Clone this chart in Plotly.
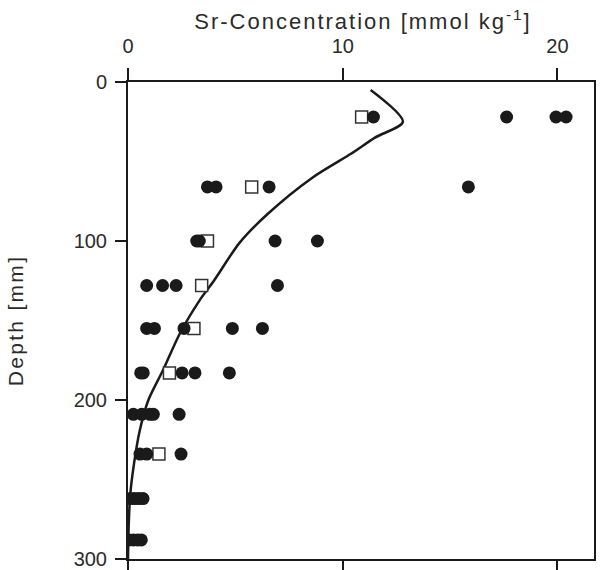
import plotly.graph_objects as go

# Measured data: filled circles (individual samples)
circle_depth = [22, 22, 22, 22,
                66, 66, 66, 66,
                100, 100, 100, 100,
                128, 128, 128, 128,
                155, 155, 155, 155, 155,
                183, 183, 183, 183, 183,
                209, 209, 209, 209, 209,
                234, 234, 234,
                262, 262, 262, 262,
                288, 288, 288, 288]
circle_sr = [11.43, 17.63, 19.93, 20.4,
             3.70, 4.10, 6.57, 15.85,
             3.20, 3.32, 6.85, 8.82,
             0.87, 1.61, 2.24, 6.96,
             0.87, 1.23, 2.61, 4.86, 6.26,
             0.59, 0.71, 2.52, 3.12, 4.72,
             0.25, 0.64, 1.02, 1.18, 2.38,
             0.56, 0.87, 2.47,
             0.10, 0.30, 0.50, 0.70,
             0.05, 0.25, 0.45, 0.62]

# Mean values: open squares
square_depth = [22, 66, 100, 128, 155, 183, 234]
square_sr = [10.88, 5.76, 3.70, 3.43, 3.07, 1.93, 1.44]

# Model curve
model_depth = [5, 25, 35, 45, 60, 83, 101, 125, 137, 158, 181, 200, 219, 240, 260, 280, 300]
model_sr = [11.3, 12.8, 11.5, 10.4, 8.6, 6.5, 5.2, 4.0, 3.35, 2.42, 1.64, 0.95, 0.55, 0.28, 0.1, 0.03, 0.0]

x_ticks = [0, 10, 20]
y_ticks = [0, 100, 200, 300]

FONT = "Liberation Sans, Arial, sans-serif"
INK = "#1a1a1a"
TXT = "#2b2b2b"

fig = go.Figure()
fig.add_trace(go.Scatter(x=model_sr, y=model_depth, mode="lines",
                         line=dict(color=INK, width=2.5, shape="spline", smoothing=0.8),
                         showlegend=False, hoverinfo="skip"))
fig.add_trace(go.Scatter(x=square_sr, y=square_depth, mode="markers",
                         marker=dict(symbol="square", size=12, color="white",
                                     line=dict(color="#333333", width=1.5)),
                         showlegend=False))
fig.add_trace(go.Scatter(x=circle_sr, y=circle_depth, mode="markers",
                         marker=dict(symbol="circle", size=13, color=INK,
                                     line=dict(width=0)),
                         showlegend=False))

fig.update_layout(
    width=600, height=570,
    margin=dict(l=128, r=6, t=82, b=11),
    paper_bgcolor="white", plot_bgcolor="white",
    font=dict(family=FONT, size=20, color=TXT),
    title=dict(text="Sr-Concentration [mmol kg<sup>-1</sup>]", x=0.605, xanchor="center",
               y=0.962, yanchor="middle", font=dict(size=22, color=TXT)),
)
fig.update_xaxes(side="top", range=[0, 21.7], tickvals=x_ticks, ticktext=[str(v) for v in x_ticks],
                 ticks="outside", ticklen=12, tickwidth=2, tickcolor=INK, ticklabelstandoff=7,
                 showline=True, linewidth=2, linecolor=INK, mirror="ticks", automargin=False,
                 showgrid=False, zeroline=False, tickfont=dict(size=20, color=TXT))
fig.update_yaxes(range=[300, 0], tickvals=y_ticks, ticktext=[str(v) for v in y_ticks],
                 ticks="outside", ticklen=11, tickwidth=2, tickcolor=INK, ticklabelstandoff=4,
                 showline=True, linewidth=2, linecolor=INK, mirror=True, automargin=False,
                 showgrid=False, zeroline=False, tickfont=dict(size=20, color=TXT),
                 title=dict(text="Depth [mm]", font=dict(size=21, color=TXT), standoff=44))

post = (
    "document.body.style.margin='0';"
    "var gd=document.getElementById('{plot_id}');"
    "function ls(){"
    "gd.querySelectorAll('.gtitle').forEach(function(e){e.style.letterSpacing='2px';});"
    "gd.querySelectorAll('.ytitle').forEach(function(e){e.style.letterSpacing='2.3px';});"
    "}"
    "ls(); gd.on('plotly_afterplot', ls);"
)

fig.write_html("out.html", post_script=post, config={"displayModeBar": False})
